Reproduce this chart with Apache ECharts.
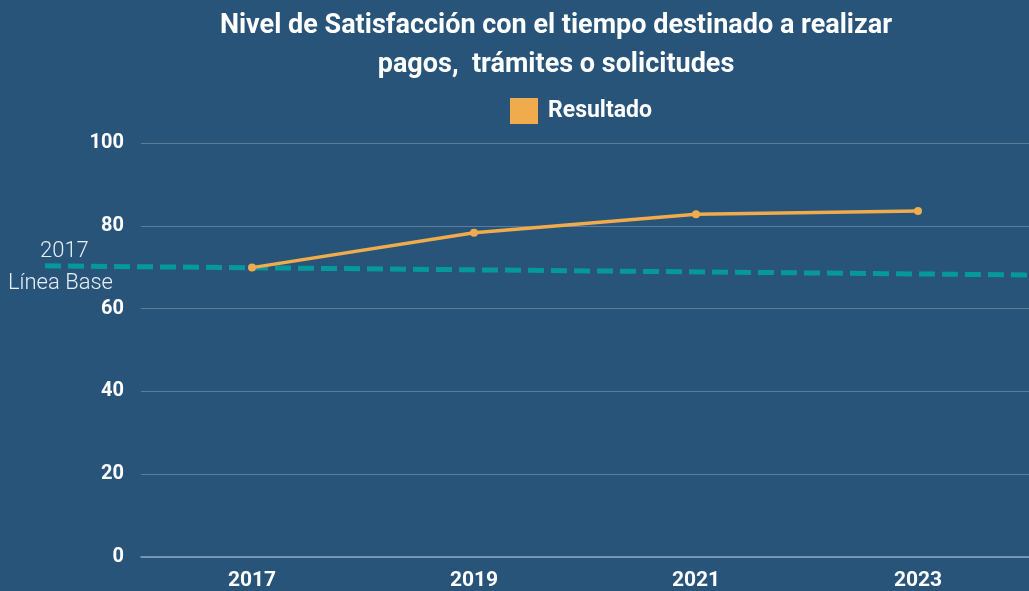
<!DOCTYPE html>
<html>
<head>
<meta charset="utf-8">
<script src="https://cdn.jsdelivr.net/npm/echarts@6/dist/echarts.min.js"></script>
<style>
    html, body { margin: 0; padding: 0; background: #28547a; }
    #chart { width: 1029px; height: 591px; }
</style>
</head>
<body>
<div id="chart"></div>
<script>
    // datos
    var years = ['2017', '2019', '2021', '2023'];
    var resultado = [69.9, 78.3, 82.8, 83.6];
    var lineaBase = [[0, 70.4], [1, 68.2]];
    var yTicks = [0, 20, 40, 60, 80, 100];

    var chart = echarts.init(document.getElementById('chart'));
    var font = 'Roboto';

    var option = {
        backgroundColor: '#28547a',
        animation: false,
        title: {
            text: 'Nivel de Satisfacción con el tiempo destinado a realizar\npagos,  trámites o solicitudes',
            left: 551,
            top: 2,
            textAlign: 'center',
            textStyle: {
                color: '#ffffff',
                fontFamily: font,
                fontWeight: 'bold',
                fontSize: 27,
                lineHeight: 39
            }
        },
        legend: {
            left: 505,
            top: 93,
            itemWidth: 28,
            itemHeight: 26,
            itemGap: 10,
            icon: 'rect',
            data: ['Resultado'],
            textStyle: {
                color: '#ffffff',
                fontFamily: font,
                fontWeight: 'bold',
                fontSize: 23,
                padding: [0, 0, 0, 5]
            }
        },
        grid: [
            { left: 141, right: 0, top: 143, bottom: 33 },
            { left: 45, right: 0, top: 143, bottom: 33 }
        ],
        xAxis: [
            {
                type: 'category',
                gridIndex: 0,
                data: years,
                axisTick: { show: false },
                axisLine: { lineStyle: { color: '#8ea4b9', width: 1.5 } },
                axisLabel: {
                    color: '#ffffff',
                    fontFamily: font,
                    fontWeight: 'bold',
                    fontSize: 21,
                    margin: 13
                }
            },
            {
                type: 'value',
                gridIndex: 1,
                min: 0,
                max: 1,
                show: false
            }
        ],
        yAxis: [
            {
                type: 'value',
                gridIndex: 0,
                min: yTicks[0],
                max: yTicks[yTicks.length - 1],
                interval: 20,
                axisLine: { show: false },
                axisTick: { show: false },
                splitLine: { lineStyle: { color: '#5b7d9c', width: 1 } },
                axisLabel: {
                    color: '#ffffff',
                    fontFamily: font,
                    fontWeight: 'bold',
                    fontSize: 20,
                    margin: 17
                }
            },
            {
                type: 'value',
                gridIndex: 1,
                min: 0,
                max: 100,
                show: false
            }
        ],
        graphic: [
            {
                type: 'text',
                left: 40,
                top: 240,
                style: { text: '2017', fill: '#e8eef4', font: '300 22px Roboto' }
            },
            {
                type: 'text',
                left: 8,
                top: 272,
                style: { text: 'Línea Base', fill: '#e8eef4', font: '300 22px Roboto' }
            }
        ],
        series: [
            {
                name: 'Línea Base',
                type: 'line',
                xAxisIndex: 1,
                yAxisIndex: 1,
                data: lineaBase,
                symbol: 'none',
                lineStyle: { color: '#06999b', width: 5, type: [16, 7] },
                z: 1
            },
            {
                name: 'Resultado',
                type: 'line',
                xAxisIndex: 0,
                yAxisIndex: 0,
                data: resultado,
                color: '#efab4c',
                symbol: 'circle',
                symbolSize: 8,
                lineStyle: { color: '#efab4c', width: 3.5 },
                itemStyle: { color: '#efab4c' },
                z: 3
            }
        ]
    };

    chart.setOption(option);
</script>
</body>
</html>
